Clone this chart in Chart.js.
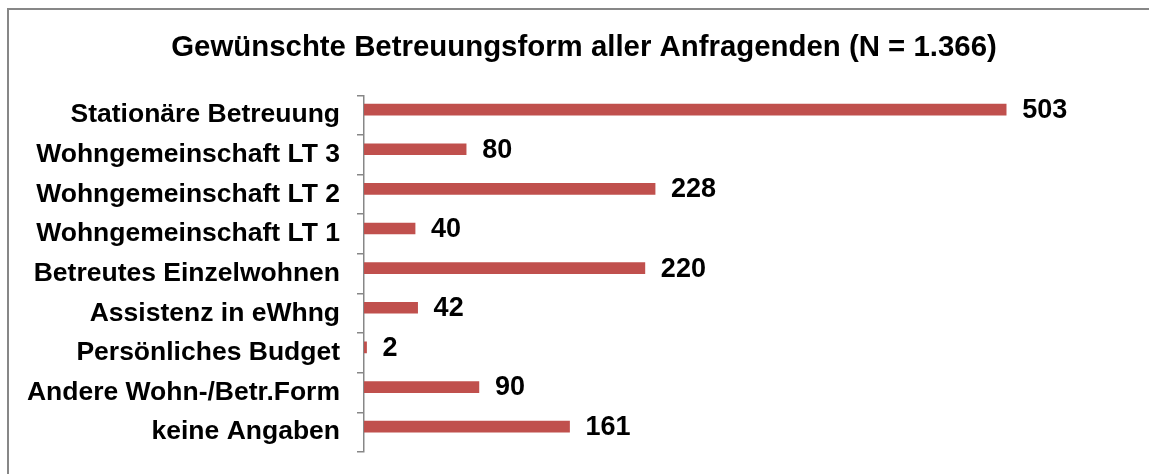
<!DOCTYPE html>
<html lang="de">
<head>
    <meta charset="UTF-8">
    <title>Gewünschte Betreuungsform</title>
    <script src="https://cdn.jsdelivr.net/npm/chart.js"></script>
    <style>
        html, body { margin: 0; padding: 0; background: #fff; overflow: hidden; }
        #wrap { position: relative; width: 1149px; height: 474px; }
        #frame {
            position: absolute; left: 7px; top: 8px; width: 1160px; height: 480px;
            border: 2px solid #878787; box-sizing: border-box;
        }
        canvas { position: absolute; left: 0; top: 0; }
    </style>
</head>
<body>
    <div id="wrap">
        <div id="frame"></div>
        <canvas id="chart" width="1149" height="474"></canvas>
    </div>

    <script>
        const categories = [
            'Stationäre Betreuung',
            'Wohngemeinschaft LT 3',
            'Wohngemeinschaft LT 2',
            'Wohngemeinschaft LT 1',
            'Betreutes Einzelwohnen',
            'Assistenz in eWhng',
            'Persönliches Budget',
            'Andere Wohn-/Betr.Form',
            'keine Angaben'
        ];
        const counts = [503, 80, 228, 40, 220, 42, 2, 90, 161];
        const chartTitle = 'Gewünschte Betreuungsform aller Anfragenden (N = 1.366)';

        const fontFamily = '"Liberation Sans", Arial, sans-serif';

        // draws the count next to each bar
        const valueLabels = {
            id: 'valueLabels',
            afterDatasetsDraw(chart) {
                const ctx = chart.ctx;
                const meta = chart.getDatasetMeta(0);
                ctx.save();
                ctx.font = 'bold 27px ' + fontFamily;
                ctx.fillStyle = '#000';
                ctx.textAlign = 'left';
                ctx.textBaseline = 'middle';
                meta.data.forEach((bar, i) => {
                    ctx.fillText(String(counts[i]), bar.x + 16, bar.y + 1);
                });
                ctx.restore();
            }
        };

        // title sits a bit right of the canvas centre in the original
        const nudgeTitle = {
            id: 'nudgeTitle',
            afterLayout(chart) {
                chart.titleBlock.left += 19;
                chart.titleBlock.right += 19;
            }
        };

        new Chart(document.getElementById('chart'), {
            type: 'bar',
            data: {
                labels: categories,
                datasets: [
                    { data: counts, backgroundColor: '#C0504D', barThickness: 11 },
                    // empty second series (as in the original), keeps the bars off-centre
                    { data: [], backgroundColor: '#4F81BD', barThickness: 11 }
                ]
            },
            options: {
                indexAxis: 'y',
                responsive: false,
                animation: false,
                layout: { padding: { left: 0, right: 19, top: 0, bottom: 22 } },
                plugins: {
                    legend: { display: false },
                    tooltip: { enabled: false },
                    title: {
                        display: true,
                        text: chartTitle,
                        color: '#000',
                        font: { family: fontFamily, size: 29.4, weight: 'bold' },
                        padding: { top: 30, bottom: 30 }
                    }
                },
                scales: {
                    x: { display: false, min: 0, max: 600 },
                    y: {
                        afterFit(scale) {
                            scale.width = 364;
                            scale.paddingTop = 0;
                            scale.paddingBottom = 0;
                        },
                        border: { display: true, color: '#878787', width: 1.5 },
                        grid: {
                            offset: true,
                            drawOnChartArea: false,
                            drawTicks: true,
                            tickLength: 7,
                            color: '#878787',
                            lineWidth: 1.5
                        },
                        ticks: {
                            color: '#000',
                            padding: 17,
                            font: { family: fontFamily, size: 26.5, weight: 'bold' }
                        }
                    }
                }
            },
            plugins: [valueLabels, nudgeTitle]
        });
    </script>
</body>
</html>
